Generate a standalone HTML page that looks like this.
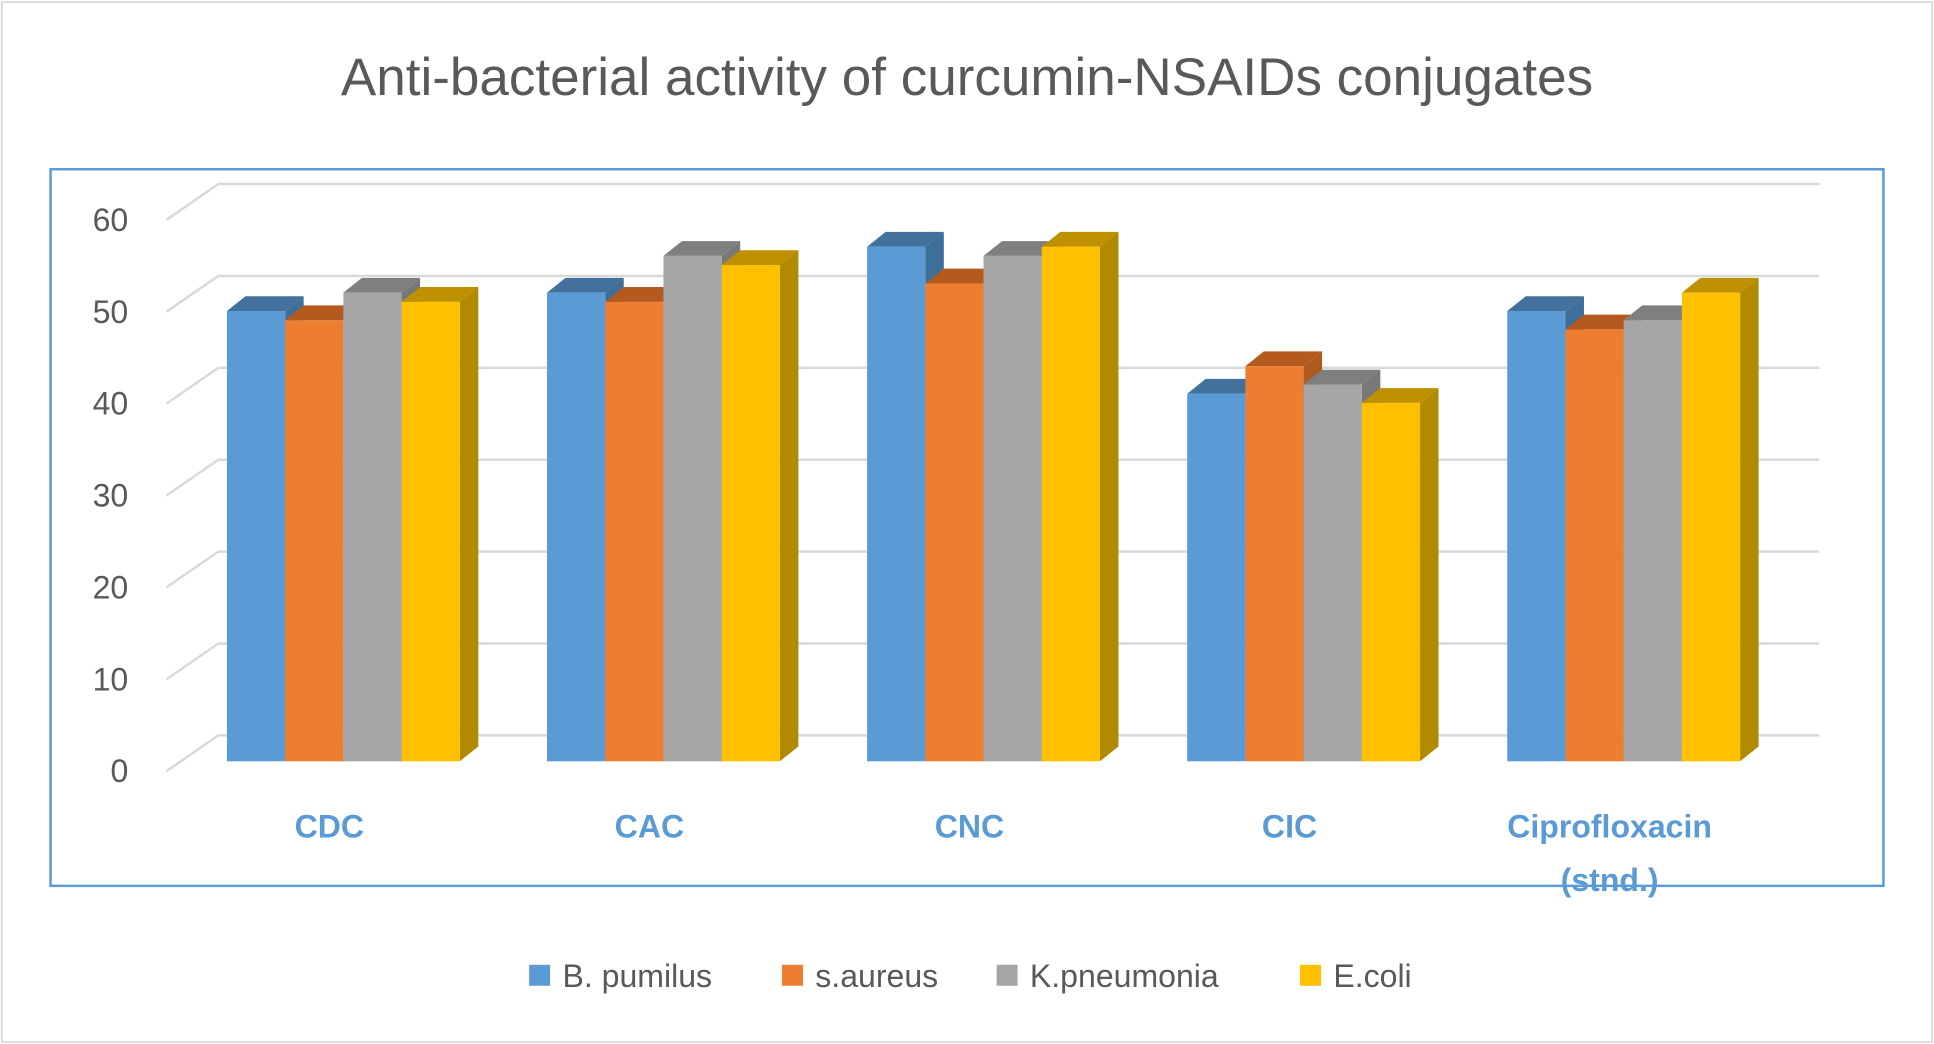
<!DOCTYPE html>
<html><head><meta charset="utf-8"><style>
html,body{margin:0;padding:0;background:#fff;}
svg{display:block;font-family:"Liberation Sans",sans-serif;}
</style></head><body>
<svg id="chart" width="1934" height="1044" viewBox="0 0 1568 846" xmlns="http://www.w3.org/2000/svg">
<rect x="1.5" y="1.5" width="1565" height="843" fill="#fff" stroke="#d9d9d9" stroke-width="1.5"/>
<text x="784" y="77" text-anchor="middle" font-size="43" fill="#595959">Anti-bacterial activity of curcumin-NSAIDs conjugates</text>
<rect x="41" y="137" width="1486" height="581" fill="none" stroke="#5B9BD5" stroke-width="2"/>
<g id="grid"></g>
<g id="bars"></g>
<g id="labels"></g>
<g id="legend"></g>
</svg>
<script>
const categories = ["CDC","CAC","CNC","CIC","Ciprofloxacin|(stnd.)"];
const seriesNames = ["B. pumilus","s.aureus","K.pneumonia","E.coli"];
const bPumilus = [49,51,56,40,49];
const sAureus = [48,50,52,43,47];
const kPneumonia = [51,55,55,41,48];
const eColi = [50,54,56,39,51];
const yTicks = [0,10,20,30,40,50,60];

const seriesVals=[bPumilus,sAureus,kPneumonia,eColi];
const colors=[["#5B9BD5","#41719C","#3E6E9A"],["#ED7D31","#B55A1E","#AE5A21"],["#A5A5A5","#7F7F7F","#787878"],["#FFC000","#BF9000","#B08A00"]];
const NS="http://www.w3.org/2000/svg";
function mk(tag,attrs,parent){const e=document.createElementNS(NS,tag);for(const k in attrs)e.setAttribute(k,attrs[k]);parent.appendChild(e);return e;}
const yFront=v=>617-v*7.45;
const yBack=v=>596-v*7.45;
const DX=15, DY=12;
const grid=document.getElementById('grid');
yTicks.forEach(t=>{
  const yb=yBack(t);
  const l=mk('line',{x1:177,y1:yb,x2:1475,y2:yb,stroke:"#d9d9d9","stroke-width":2},grid);
  
  
  const d=mk('line',{x1:135,y1:yb+29,x2:177,y2:yb,stroke:"#d9d9d9","stroke-width":2},grid);
  
  
  const tx=mk('text',{x:104,y:yb+38,"text-anchor":"end","font-size":26,fill:"#595959"},grid);
  tx.textContent=t;
  
  
});
const bars=document.getElementById('bars');
const groupStart=i=>184+i*259.5;
const bw=47.2;
categories.forEach((c,i)=>{
  seriesVals.forEach((vals,s)=>{
    const x=groupStart(i)+s*bw, y=yFront(vals[i]), y0=yFront(0);
    const g=mk('g',{},bars);
    
    
    mk('polygon',{points:`${x+bw},${y} ${x+bw+DX},${y-DY} ${x+bw+DX},${y0-DY} ${x+bw},${y0}`,fill:colors[s][2]},g);
    mk('polygon',{points:`${x},${y} ${x+DX},${y-DY} ${x+bw+DX},${y-DY} ${x+bw},${y}`,fill:colors[s][1]},g);
    mk('rect',{x:x,y:y,width:bw,height:y0-y,fill:colors[s][0]},g);
  });
});
const labels=document.getElementById('labels');
categories.forEach((c,i)=>{
  const cx=groupStart(i)+83;
  c.split('|').forEach((line,k)=>{
    const t=mk('text',{x:cx,y:679+k*43,"text-anchor":"middle","font-size":26,"font-weight":"bold",fill:"#5B9BD5"},labels);
    t.textContent=line;
    
    
  });
});
const legend=document.getElementById('legend');
const lx=[429,634,808,1054];
seriesNames.forEach((n,s)=>{
  const g=mk('g',{},legend);
  
  
  mk('rect',{x:lx[s],y:782,width:17,height:17,fill:colors[s][0]},g);
  const t=mk('text',{x:lx[s]+27,y:800,"font-size":26,fill:"#595959"},g);
  t.textContent=n;
});
</script>
</body></html>
